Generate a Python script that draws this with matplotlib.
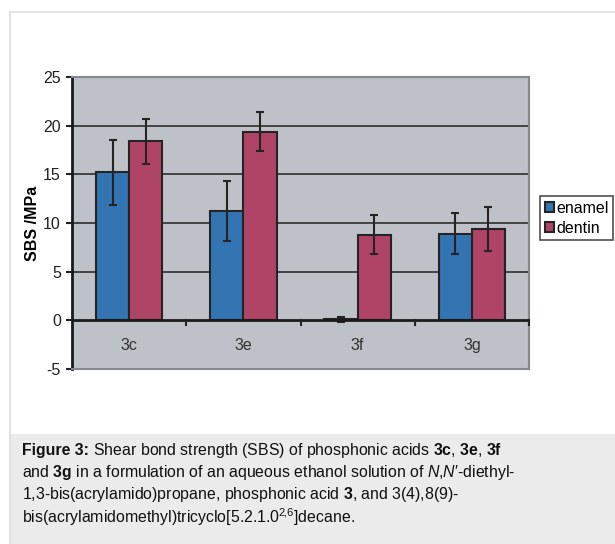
import matplotlib.pyplot as plt
import numpy as np
from matplotlib.lines import Line2D
from matplotlib.patches import Rectangle

plt.rcParams["font.family"] = ["Liberation Sans", "DejaVu Sans"]
plt.rcParams["axes.unicode_minus"] = False
plt.rcParams["mathtext.fontset"] = "custom"
plt.rcParams["mathtext.rm"] = "Liberation Sans"
plt.rcParams["mathtext.it"] = "Liberation Sans:italic"
plt.rcParams["mathtext.bf"] = "Liberation Sans:bold"

CATEGORIES = ["3c", "3e", "3f", "3g"]
ENAMEL = [15.2, 11.2, 0.1, 8.9]
ENAMEL_ERR = [3.35, 3.1, 0.25, 2.1]
DENTIN = [18.4, 19.4, 8.8, 9.4]
DENTIN_ERR = [2.3, 2.0, 2.0, 2.25]
YTICKS = [-5, 0, 5, 10, 15, 20, 25]

BLUE = "#3375b3"
RED = "#b04467"
EDGE = "#242424"

fig = plt.figure(figsize=(6.15, 5.44), dpi=100)
W, H = 615, 544

# page frame and caption panel
fig.add_artist(Line2D([10 / W, 10 / W], [0, 1 - 12 / H], color="#dddddd", lw=1.2))
fig.add_artist(Line2D([10 / W, 1], [1 - 12 / H, 1 - 12 / H], color="#dddddd", lw=1.2))
fig.add_artist(Rectangle((10 / W, 0), 1, (H - 434) / H, color="#ebebeb", lw=0))

ax = fig.add_axes([72 / W, (H - 369) / H, (529 - 72) / W, (369 - 77) / H])
ax.set_facecolor("#bfc1c8")

x = np.arange(len(CATEGORIES))
bw = 0.29
ax.bar(x - bw / 2, ENAMEL, bw, color=BLUE, edgecolor=EDGE, lw=1.5, zorder=3,
       label="enamel")
ax.bar(x + bw / 2, DENTIN, bw, color=RED, edgecolor=EDGE, lw=1.5, zorder=3,
       label="dentin")
ax.errorbar(x - bw / 2, ENAMEL, yerr=ENAMEL_ERR, fmt="none", ecolor=EDGE,
            elinewidth=1.5, capsize=3, capthick=1.5, zorder=4)
ax.errorbar(x + bw / 2, DENTIN, yerr=DENTIN_ERR, fmt="none", ecolor=EDGE,
            elinewidth=1.5, capsize=3, capthick=1.5, zorder=4)

ax.set_xlim(-0.5, len(CATEGORIES) - 0.5)
ax.set_ylim(-5, 25)
ax.set_yticks(YTICKS)
ax.tick_params(axis="y", direction="out", length=4, width=1.5, color=EDGE,
               labelsize=11.5, labelcolor="#222222", pad=4)
for y in YTICKS[2:-1]:
    ax.axhline(y, color="#2e2e2e", lw=1.2, zorder=1)
ax.axhline(0, color="#1a1a1a", lw=2, zorder=5)

# category boundaries as small ticks under the zero line
ax.set_xticks([])
for b in x[1:] - 0.5:
    ax.plot([b, b], [0, -0.5], color=EDGE, lw=1.5, zorder=5, clip_on=False)
ax.plot([x[-1] + 0.5] * 2, [0, -0.5], color=EDGE, lw=1.5, zorder=5, clip_on=False)
for xi, lab in zip(x, CATEGORIES):
    ax.text(xi, -2.6, lab, ha="center", va="center", fontsize=11.5, color="#333333")

for side in ["top", "right", "bottom"]:
    ax.spines[side].set_color("#85888e")
    ax.spines[side].set_linewidth(1.5)
ax.spines["left"].set_color("#1a1a1a")
ax.spines["left"].set_linewidth(2)

ax.set_ylabel("SBS /MPa", fontsize=11.5, fontweight="bold", labelpad=2)

leg = fig.legend(loc="upper left", bbox_to_anchor=(540 / W, 1 - 196 / H),
                 fontsize=11.5, frameon=True, fancybox=False, edgecolor="#222222",
                 handlelength=0.55, handleheight=0.55, handletextpad=0.15,
                 borderpad=0.3, labelspacing=0.3, borderaxespad=0)
leg.get_frame().set_linewidth(1.2)

# caption: bold lead-in drawn separately so the colon keeps normal spacing
CAP_SIZE = 11.4
caption = [
    r" Shear bond strength (SBS) of phosphonic acids "
    r"$\mathbf{3c}$, $\mathbf{3e}$, $\mathbf{3f}$",
    r"and $\mathbf{3g}$ in a formulation of an aqueous ethanol solution of "
    "$\\mathit{N}$,$\\mathit{N}$\u2032-diethyl-",
    r"1,3-bis(acrylamido)propane, phosphonic acid $\mathbf{3}$, and 3(4),8(9)-",
    r"bis(acrylamidomethyl)tricyclo[5.2.1.0$^{2\!,\!6}$]decane.",
]
x0 = 22 / W
lead = fig.text(x0, 1 - 450 / H, "Figure 3:", fontsize=CAP_SIZE, fontweight="bold",
                color="#111111", va="center", ha="left")
renderer = fig.canvas.get_renderer()
lead_w = lead.get_window_extent(renderer).width / W
for i, line in enumerate(caption):
    fig.text(x0 + (lead_w if i == 0 else 0), 1 - (450 + i * 22.5) / H, line,
             fontsize=CAP_SIZE, color="#111111", va="center", ha="left")

fig.savefig("out.png", dpi=100)
